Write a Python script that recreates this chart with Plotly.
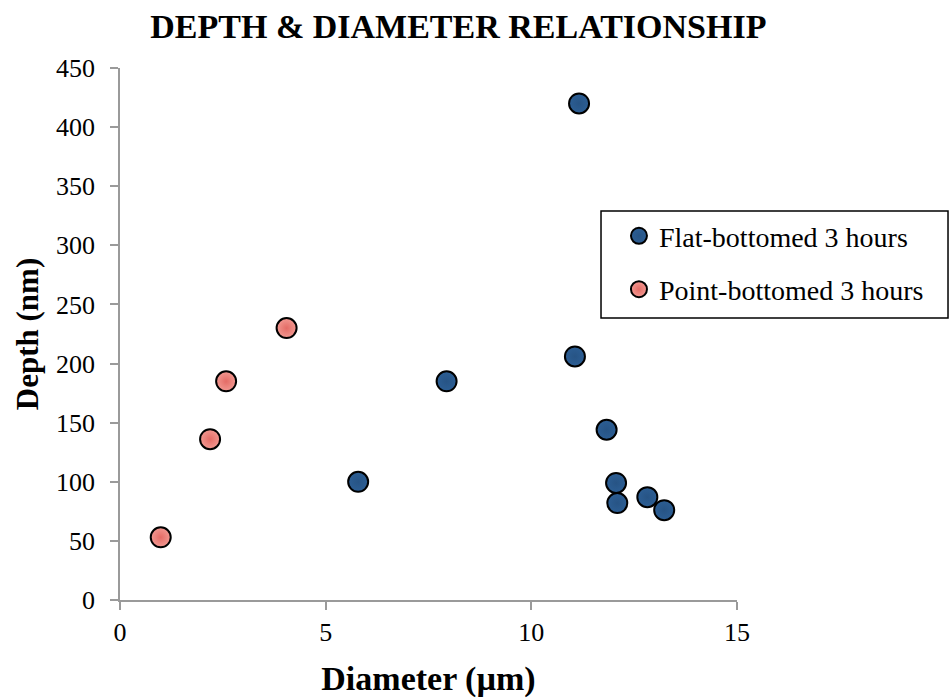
import plotly.graph_objects as go

# Flat-bottomed pits after 3 hours
flat_diameter = [11.16, 11.06, 7.94, 5.79, 11.83, 12.06, 12.09, 12.82, 13.23]
flat_depth = [420, 206, 185, 100, 144, 99, 82, 87, 76]

# Point-bottomed pits after 3 hours
point_diameter = [4.05, 2.58, 2.19, 0.99]
point_depth = [230, 185, 136, 53]

x_ticks = [0, 5, 10, 15]
y_ticks = [0, 50, 100, 150, 200, 250, 300, 350, 400, 450]

SERIF = "Liberation Serif, Times New Roman, serif"

fig = go.Figure()
fig.add_trace(go.Scatter(
    x=flat_diameter, y=flat_depth, mode="markers",
    name="Flat-bottomed 3 hours", legendgroup="flat",
    marker=dict(size=20, color="#2C5E94",
                gradient=dict(type="radial", color="#275485"),
                line=dict(color="black", width=2)),
))
fig.add_trace(go.Scatter(
    x=point_diameter, y=point_depth, mode="markers",
    name="Point-bottomed 3 hours", legendgroup="point",
    marker=dict(size=20, color="#F29891",
                gradient=dict(type="radial", color="#E46C66"),
                line=dict(color="black", width=2)),
))

axis_common = dict(
    showline=True, linecolor="#9a9a9a", linewidth=1.5,
    ticks="outside", tickcolor="#9a9a9a", ticklen=8, tickwidth=1.5,
    showgrid=False, zeroline=False, automargin=False,
    tickfont=dict(family=SERIF, size=26, color="black"),
)

# Legend frame drawn as a paper-space box so it can be wider than the entries
fig.add_shape(type="rect", xref="paper", yref="paper",
              x0=0.7796, x1=1.342, y0=0.530, y1=0.731,
              line=dict(color="black", width=1.5), fillcolor="white",
              layer="below")

fig.update_layout(
    width=951, height=700,
    paper_bgcolor="white", plot_bgcolor="white",
    margin=dict(l=120, r=214, t=68, b=100),
    title=dict(text="<b>DEPTH & DIAMETER RELATIONSHIP</b>",
               font=dict(family=SERIF, size=34, color="black"),
               x=0.482, xanchor="center", y=0.963, yanchor="middle"),
    xaxis=dict(range=[0, 15], tickvals=x_ticks,
               title=dict(text="<b>Diameter (µm)</b>",
                          font=dict(family=SERIF, size=34, color="black"),
                          standoff=20),
               **axis_common),
    yaxis=dict(range=[0, 450], tickvals=y_ticks, ticklabelstandoff=10,
               title=dict(text="<b>Depth (nm)</b>",
                          font=dict(family=SERIF, size=31, color="black"),
                          standoff=8),
               **axis_common),
    showlegend=True,
    legend=dict(x=0.8087, y=0.731, xanchor="left", yanchor="top",
                borderwidth=0, bgcolor="rgba(0,0,0,0)",
                font=dict(family=SERIF, size=28, color="black"),
                traceorder="grouped", tracegroupgap=14,
                itemsizing="trace"),
)

fig.write_html("out.html")
